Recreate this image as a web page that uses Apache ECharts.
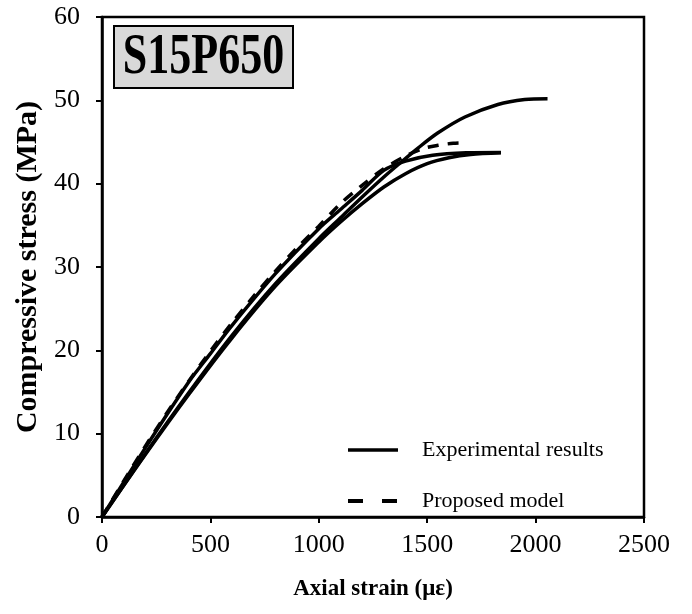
<!DOCTYPE html>
<html>
<head>
<meta charset="utf-8">
<script src="https://cdn.jsdelivr.net/npm/echarts@6/dist/echarts.min.js"></script>
<style>html,body{margin:0;padding:0;background:#fff;}#main{width:692px;height:614px;}</style>
</head>
<body>
<div id="main"></div>
<script>
// Axis ticks
const strainTicks = [0, 500, 1000, 1500, 2000, 2500];
const stressTicks = [0, 10, 20, 30, 40, 50, 60];

// Experimental curve A (highest peak)
const expA_strain = [0, 200, 400, 600, 800, 1000, 1100, 1200, 1300, 1367, 1459, 1550, 1674, 1826, 1950, 2055];
const expA_stress = [0, 7.6, 14.9, 21.8, 28.0, 33.4, 35.9, 38.4, 40.8, 42.3, 44.3, 46.1, 48.0, 49.5, 50.1, 50.2];

// Experimental curve B (lowest in the middle)
const expB_strain = [0, 200, 400, 600, 800, 1000, 1100, 1200, 1300, 1400, 1500, 1600, 1700, 1840];
const expB_stress = [0, 7.5, 14.7, 21.5, 27.7, 33.0, 35.4, 37.6, 39.6, 41.2, 42.4, 43.1, 43.5, 43.7];

// Experimental curve C (close to model)
const expC_strain = [0, 200, 400, 500, 600, 800, 1000, 1100, 1200, 1300, 1400, 1525, 1680, 1840];
const expC_stress = [0, 8.3, 16.2, 19.6, 23.0, 29.2, 34.6, 36.9, 39.2, 41.6, 42.7, 43.4, 43.7, 43.75];

// Proposed model
const model_strain = [0, 100, 200, 300, 400, 500, 600, 700, 800, 900, 1000, 1100, 1200, 1300, 1400, 1480, 1550, 1620, 1670];
const model_stress = [0, 4.3, 8.5, 12.5, 16.3, 19.9, 23.3, 26.5, 29.5, 32.3, 34.9, 37.6, 39.8, 41.8, 43.3, 44.2, 44.6, 44.85, 44.9];

const zip = (a, b) => a.map((v, i) => [v, b[i]]);
const serif = '"Liberation Serif", "Times New Roman", serif';

const chart = echarts.init(document.getElementById('main'), null, {renderer: 'canvas'});
const expLine = {color: '#000', width: 3.5, type: 'solid'};
chart.setOption({
  animation: false,
  backgroundColor: '#fff',
  grid: {left: 102, right: 48, top: 17, bottom: 97, show: true, borderColor: '#000', borderWidth: 2.5, backgroundColor: 'transparent'},
  legend: {
    orient: 'vertical', left: 341, top: 434, itemWidth: 50, itemHeight: 20, itemGap: 29,
    itemStyle: {opacity: 0},
    textStyle: {fontFamily: serif, fontSize: 22, color: '#000', padding: [0, 0, 0, 19]},
    data: [
      {name: 'Experimental results', lineStyle: {color: '#000', width: 3.5, type: 'solid'}},
      {name: 'Proposed model', lineStyle: {color: '#000', width: 4, type: [15, 19]}}
    ]
  },
  xAxis: {
    type: 'value', min: strainTicks[0], max: strainTicks[strainTicks.length - 1], interval: 500,
    name: 'Axial strain (με)', nameLocation: 'middle', nameGap: 61,
    nameTextStyle: {fontFamily: serif, fontSize: 23, fontWeight: 'bold', color: '#000'},
    axisLine: {show: true, lineStyle: {color: '#000', width: 2.5}},
    axisTick: {show: true, inside: false, length: 6, lineStyle: {color: '#000', width: 2}},
    axisLabel: {fontFamily: serif, fontSize: 26, color: '#000', margin: 15, formatter: v => String(v)},
    splitLine: {show: false}
  },
  yAxis: {
    type: 'value', min: stressTicks[0], max: stressTicks[stressTicks.length - 1], interval: 10,
    name: 'Compressive stress (MPa)', nameLocation: 'middle', nameGap: 56,
    nameTextStyle: {fontFamily: serif, fontSize: 30, fontWeight: 'bold', color: '#000'},
    axisLine: {show: true, lineStyle: {color: '#000', width: 2.5}},
    axisTick: {show: true, inside: false, length: 6, lineStyle: {color: '#000', width: 2}},
    axisLabel: {fontFamily: serif, fontSize: 26, color: '#000', margin: 22, formatter: v => String(v)},
    splitLine: {show: false}
  },
  series: [
    {name: 'Experimental results', type: 'line', data: zip(expA_strain, expA_stress), smooth: 0.3, symbol: 'none', lineStyle: expLine, itemStyle: {color: '#000'}},
    {name: 'Experimental results', type: 'line', data: zip(expB_strain, expB_stress), smooth: 0.3, symbol: 'none', lineStyle: expLine, itemStyle: {color: '#000'}},
    {name: 'Experimental results', type: 'line', data: zip(expC_strain, expC_stress), smooth: 0.3, symbol: 'none', lineStyle: expLine, itemStyle: {color: '#000'}},
    {name: 'Proposed model', type: 'line', data: zip(model_strain, model_stress), smooth: 0.3, symbol: 'none', lineStyle: {color: '#000', width: 3.5, type: [11, 9]}, itemStyle: {color: '#000'}}
  ],
  graphic: [{
    type: 'group', left: 113, top: 25,
    children: [
      {type: 'rect', shape: {x: 0, y: 0, width: 179, height: 62}, style: {fill: '#d9d9d9', stroke: '#000', lineWidth: 2}},
      {type: 'text', x: 89.5, y: 32, scaleY: 1.3, style: {text: 'S15P650', font: 'bold 44px "Liberation Serif", serif', fill: '#000', align: 'center', verticalAlign: 'middle'}}
    ]
  }]
});
</script>
</body>
</html>
